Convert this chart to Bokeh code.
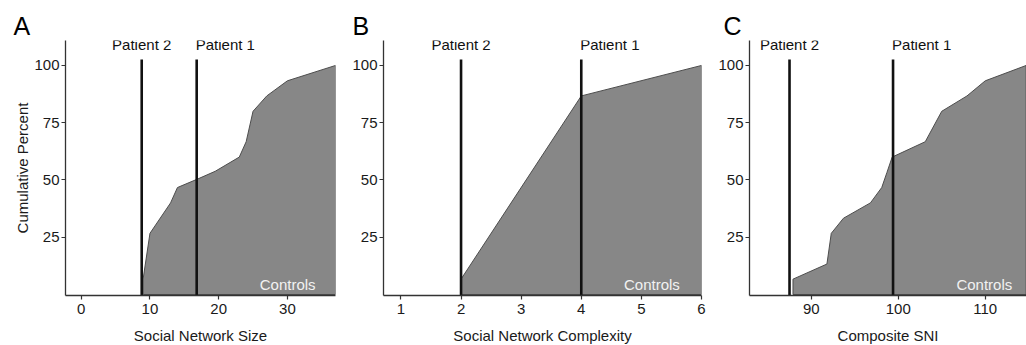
from bokeh.plotting import figure
from bokeh.layouts import row
from bokeh.models import Label, FixedTicker, Range1d, Title
from bokeh.embed import file_html
from bokeh.resources import INLINE

FONT = "Liberation Sans"

# ---------------- data ----------------
y_ticks = [25, 50, 75, 100]
patient_names = ["Patient 2", "Patient 1"]
patient_align = ["center", "left"]

# Panel A: Social Network Size
a_x = [9, 10, 13, 14, 17, 19.5, 23, 24, 25, 27, 30, 37]
a_y = [6.7, 26.7, 40, 46.7, 50.5, 53.8, 60, 66.7, 80, 86.7, 93.3, 100]
a_patients = [8.8, 16.8]
a_ticks = [0, 10, 20, 30]

# Panel B: Social Network Complexity
b_x = [2, 4, 6]
b_y = [6.7, 86.7, 100]
b_patients = [2, 4]
b_ticks = [1, 2, 3, 4, 5, 6]

# Panel C: Composite SNI
c_x = [87.9, 91.8, 92.3, 93.7, 96.8, 98.1, 98.7, 99.3, 103.1, 105, 107.9, 110, 114.7]
c_y = [6.7, 13.3, 26.7, 33.3, 40, 46.7, 53.3, 60, 66.7, 80, 86.7, 93.3, 100]
c_patients = [87.5, 99.4]
c_ticks = [90, 100, 110]

Y_RANGE = (-0.44, 110.9)


def make_panel(letter, xs, ys, patients, ticks, xlabel, xr, frame_w,
               bl, br, letter_off, controls_x, ylabel=None):
    p = figure(frame_width=frame_w, frame_height=255,
               min_border_left=bl, min_border_right=br,
               min_border_top=40, min_border_bottom=50,
               x_range=Range1d(*xr), y_range=Range1d(*Y_RANGE),
               output_backend="svg", toolbar_location=None)
    p.title = Title(text=letter, align="left", offset=letter_off, standoff=1,
                    text_font=FONT, text_font_size="25px",
                    text_font_style="normal", text_color="#000000",
                    vertical_align="bottom")
    p.outline_line_color = None
    p.grid.visible = False
    p.background_fill_color = "white"
    p.border_fill_color = "white"

    # area under cumulative curve
    px = [xs[0]] + list(xs) + [xs[-1]]
    py = [0] + list(ys) + [0]
    p.patch(px, py, fill_color="#878787", line_color="#4d4d4d", line_width=1)

    # patient lines
    p.segment(x0=patients, y0=[Y_RANGE[0]] * len(patients), x1=patients,
              y1=[102.6] * len(patients), line_color="#111111", line_width=2.6)
    for name, align, px_ in zip(patient_names, patient_align, patients):
        p.add_layout(Label(x=px_, y=109.2, text=name, text_align=align,
                           x_offset=(-1 if align == "left" else 0),
                           text_baseline="alphabetic", text_font=FONT,
                           text_font_size="15px", text_color="#111111"))

    p.add_layout(Label(x=controls_x, y=4.2, text="Controls", text_align="right",
                       text_baseline="alphabetic", text_font=FONT,
                       text_font_size="15px", text_color="#f2f2f2"))

    for ax in (p.xaxis[0], p.yaxis[0]):
        ax.axis_line_color = "#333333"
        ax.axis_line_width = 1.3
        ax.major_tick_line_color = "#333333"
        ax.major_tick_line_width = 1.2
        ax.major_tick_out = 4
        ax.major_tick_in = 0
        ax.minor_tick_line_color = None
        ax.major_label_text_font = FONT
        ax.major_label_text_font_size = "15px"
        ax.major_label_text_color = "#1a1a1a"
        ax.axis_label_text_font = FONT
        ax.axis_label_text_font_size = "15px"
        ax.axis_label_text_font_style = "normal"
        ax.axis_label_text_color = "#1a1a1a"

    p.xaxis.ticker = FixedTicker(ticks=ticks)
    p.yaxis.ticker = FixedTicker(ticks=y_ticks)
    p.xaxis.major_label_standoff = 4
    p.xaxis.axis_label = xlabel
    p.xaxis.axis_label_standoff = 10
    p.yaxis.major_label_standoff = 2
    if ylabel:
        p.yaxis.axis_label = ylabel
        p.yaxis.axis_label_standoff = 0
    return p


pa = make_panel("A", a_x, a_y, a_patients, a_ticks, "Social Network Size",
                (-2.29, 37.0), 270, 65, 5, -52, 34.1, ylabel="Cumulative Percent")
pb = make_panel("B", b_x, b_y, b_patients, b_ticks, "Social Network Complexity",
                (0.71, 6.0), 318, 43, 8, -31, 5.64)
pc = make_panel("C", c_x, c_y, c_patients, c_ticks, "Composite SNI",
                (82.9, 114.74), 277, 40, 0, -26, 113.1)

layout = row(pa, pb, pc, spacing=0)

with open("out.html", "w") as f:
    f.write(file_html(layout, INLINE))
